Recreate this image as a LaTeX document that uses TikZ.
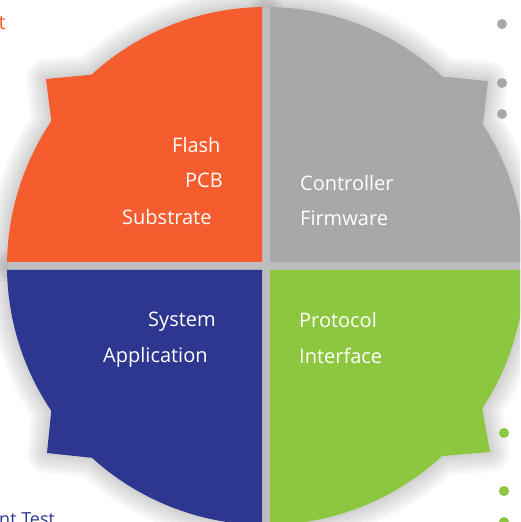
\documentclass[tikz,border=0pt]{standalone}
\usepackage{fontspec}
\setmainfont{Open Sans}
\definecolor{qorange}{RGB}{245,93,46}
\definecolor{qgray}{RGB}{167,168,170}
\definecolor{qblue}{RGB}{46,55,144}
\definecolor{qgreen}{RGB}{141,198,63}
\definecolor{gapgray}{RGB}{190,190,192}
\def\pathO{(-4,4) -- (90.885:259) arc[start angle=90.885,end angle=132.4,radius=259pt] -- (-220,187) -- (146:259) arc[start angle=146,end angle=179.115,radius=259pt] -- cycle}
\def\pathG{(4,4) -- (89.115:259) arc[start angle=89.115,end angle=47.0,radius=259pt] -- (222,185) -- (33.1:259) arc[start angle=33.1,end angle=0.885,radius=259pt] -- cycle}
\def\pathB{(-4,-4) -- (180.885:259) arc[start angle=180.885,end angle=214,radius=259pt] -- (-219,-187) -- (227.8:259) arc[start angle=227.8,end angle=269.115,radius=259pt] -- cycle}
\def\pathE{(4,-4) -- (270.885:259) arc[start angle=270.885,end angle=312.8,radius=259pt] -- (224,-186) -- (326.6:259) arc[start angle=326.6,end angle=359.115,radius=259pt] -- cycle}
\tikzset{
  lbl/.style={text=white,font=\fontsize{20}{24}\selectfont,inner sep=0pt,anchor=base west},
  dotg/.style={fill=qgray},
  dote/.style={fill=qgreen},
  glow/.style={black,opacity=0.028,line join=round},
}
\begin{document}
\begin{tikzpicture}[x=1pt,y=1pt]
\useasboundingbox (0,0) rectangle (520,522);
\clip (0,0) rectangle (520,522);
\begin{scope}[shift={(266,256)}]
  \foreach \w in {40,34,28,22,16,10,5}{
    \draw[glow,line width=\w pt] \pathO;
    \draw[glow,line width=\w pt] \pathG;
    \draw[glow,line width=\w pt] \pathB;
    \draw[glow,line width=\w pt] \pathE;
  }
  \fill[white] (0,0) circle[radius=255pt];
  \fill[gapgray] (0,0) circle[radius=258pt];
  \fill[qorange] \pathO;
  \fill[qgray] \pathG;
  \fill[qblue] \pathB;
  \fill[qgreen] \pathE;
\end{scope}
\node[lbl] (flash) at (172,369) {Flash};
\node[lbl] (pcb) at (185,334) {PCB};
\node[lbl] (sub) at (122,297) {Substrate};
\node[lbl] (ctrl) at (300,331) {Controller};
\node[lbl] (fw) at (300,296) {Firmware};
\node[lbl] (sys) at (148,195) {System};
\node[lbl] (app) at (103,159) {Application};
\node[lbl] (prot) at (299,194) {Protocol};
\node[lbl] (intf) at (299,158) {Interface};
\node[text=qorange,font=\fontsize{20}{24}\selectfont,inner sep=0pt,anchor=base east] (tt) at (6,492) {t};
\node[text=qblue,font=\fontsize{18}{22}\selectfont,inner sep=0pt,anchor=base west] (nt) at (-1,-4) {nt Test};
\fill[dotg] (502,498) circle[radius=5pt];
\fill[dotg] (502,439) circle[radius=5pt];
\fill[dotg] (502,408) circle[radius=5pt];
\fill[dote] (504,89) circle[radius=5pt];
\fill[dote] (504,31) circle[radius=5pt];
\fill[dote] (504,0) circle[radius=5pt];
\end{tikzpicture}
\end{document}
